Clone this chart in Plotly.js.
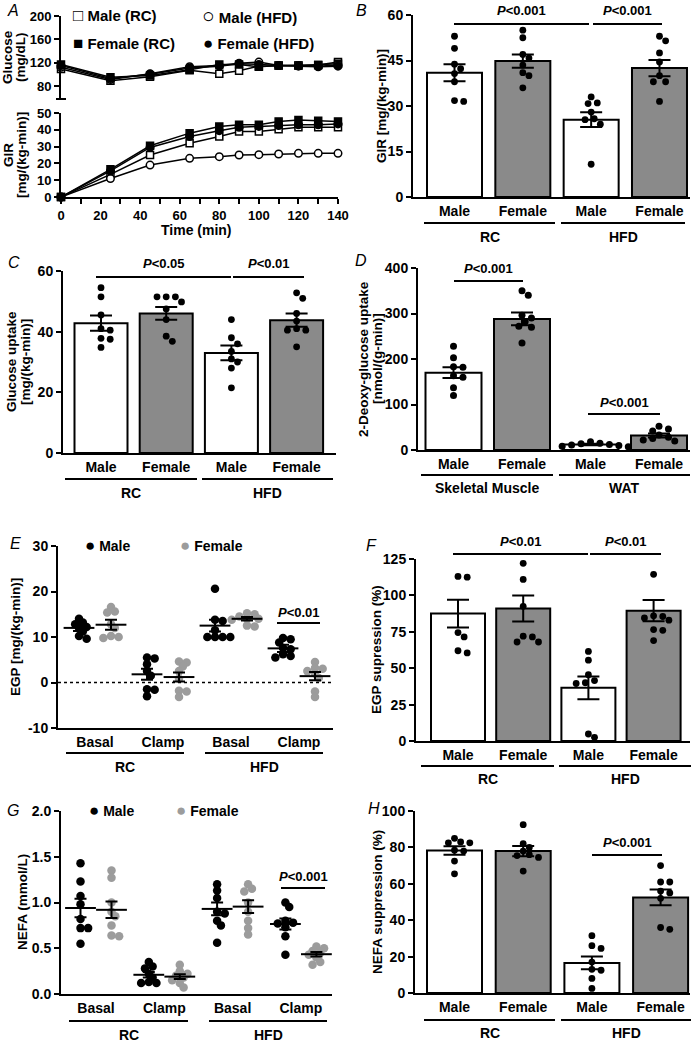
<!DOCTYPE html>
<html><head><meta charset="utf-8">
<script src="https://cdn.plot.ly/plotly-3.0.1.min.js"></script>
<style>html,body{margin:0;padding:0;background:#fff}</style>
</head><body><div id="chart" style="width:696px;height:1042px"></div>
<script>
// ================= DATA =================
// Panel A: clamp time course
const timeMin = [0, 25, 45, 65, 80, 90, 100, 110, 120, 130, 140];
const gluMaleRC   = [109, 89, 96, 107, 101, 106, 114, 115, 115, 116, 121];
const gluFemaleRC = [117, 95, 98, 108, 117, 117, 113, 115, 115, 116, 118];
const gluMaleHFD  = [112, 91, 101, 113, 115, 119, 121, 115, 115, 114, 116];
const gluFemaleHFD= [115, 93, 100, 111, 114, 118, 117, 115, 114, 113, 114];
const girMaleRC   = [0, 13.5, 25, 32, 36, 39, 39, 40.3, 41.5, 41.5, 41.5];
const girFemaleRC = [0, 16.5, 30.5, 38, 42, 43, 43, 45, 45.8, 45.4, 45];
const girMaleHFD  = [0, 11, 19, 23, 24, 25, 25.2, 25.6, 26, 26, 26];
const girFemaleHFD= [0, 15.5, 29.5, 36, 39.5, 41.5, 42, 42.5, 43, 43, 43.5];

const barCats = ['Male', 'Female', 'Male', 'Female'];
const dotCats = ['Basal', 'Clamp', 'Basal', 'Clamp'];

// Panel B: GIR
const girMean = [41, 44.8, 25.5, 42.5];
const girSem  = [2.8, 2.2, 2.4, 2.7];
const girPts = [
  [53, 49, 43.8, 42.3, 40.7, 38, 31.5, 31.8],
  [55, 52.5, 47, 45.8, 43.5, 41, 40, 36],
  [33, 31, 30.8, 28, 25.8, 25.5, 24, 10.8],
  [53, 51.5, 47.5, 44.5, 40, 38, 38, 31.5]
];
// Panel C: glucose uptake
const guMean = [42.8, 46, 33, 43.8];
const guSem  = [2.5, 2.1, 2.4, 2.2];
const guPts = [
  [54.5, 51.5, 45.5, 41, 40.5, 37.8, 37.5, 34.8],
  [51.5, 51.5, 51.5, 49.8, 47.5, 44, 38.5, 36.8],
  [44, 38, 36, 33.5, 31, 30, 28, 21.5],
  [52.8, 51, 46, 43.5, 41, 40.5, 40.5, 35]
];
// Panel D: 2-deoxyglucose uptake
const dgMean = [170, 288, 12, 32];
const dgSem  = [12, 14, 1.5, 4.5];
const dgPts = [
  [228, 203, 183, 182, 163, 160, 137, 120],
  [350, 340, 296, 290, 282, 272, 270, 235],
  [18, 15, 14, 12, 11, 10, 8, 7],
  [52, 46, 42, 33, 28, 25, 22, 20]
];
// Panel E: EGP (Basal RC, Clamp RC, Basal HFD, Clamp HFD)
const egpMale = [
  [14, 13.2, 12.8, 12.2, 12, 11.2, 10.2, 9.6],
  [5.5, 5.3, 4, 2.5, 1.5, -1.5, -1.6, -3],
  [20.6, 13.8, 13.5, 11.5, 10, 10, 10, 10],
  [9.8, 9.5, 8.8, 7.6, 7.3, 6.2, 5.8, 5.5]
];
const egpFemale = [
  [16.6, 15.6, 15.4, 12.8, 12, 10.2, 10, 9.8],
  [4.6, 4.4, 3.5, 2.5, 0.8, -1.8, -2, -3.2],
  [15.2, 15, 14.5, 14, 14, 13.8, 12.5, 12.3],
  [4.5, 3.2, 3, 2.5, 2, 1, -2, -3.2]
];
const egpMaleMean = [12, 1.8, 12.5, 7.5];
const egpMaleSem  = [0.7, 1.2, 1.3, 0.8];
const egpFemaleMean = [12.7, 1.2, 14, 1.4];
const egpFemaleSem  = [1.1, 1.0, 0.4, 0.9];
// Panel F: EGP suppression
const egpsMean = [87.5, 91, 36.5, 89.5];
const egpsSem  = [9.5, 9, 7.8, 7.3];
const egpsPts = [
  [113, 112.5, 74.5, 71.5, 62, 60.5],
  [122, 111, 92.5, 72, 71.5, 68, 68],
  [61.5, 55.5, 45.5, 41.5, 40, 39.5, 4.8, 2.5],
  [114.5, 86, 85.5, 84.5, 83, 76.5, 76, 69]
];
// Panel G: NEFA
const nefaMale = [
  [1.43, 1.23, 1.07, 0.98, 0.82, 0.72, 0.72, 0.55],
  [0.35, 0.3, 0.28, 0.22, 0.18, 0.13, 0.12, 0.12],
  [1.2, 1.13, 1.05, 0.9, 0.88, 0.8, 0.75, 0.56],
  [1.0, 0.95, 0.8, 0.78, 0.77, 0.73, 0.63, 0.43]
];
const nefaFemale = [
  [1.35, 1.27, 1.0, 0.9, 0.85, 0.75, 0.63, 0.64],
  [0.32, 0.25, 0.22, 0.2, 0.18, 0.15, 0.12, 0.07],
  [1.2, 1.15, 1.12, 1.0, 0.9, 0.8, 0.72, 0.65],
  [0.52, 0.5, 0.47, 0.45, 0.43, 0.4, 0.35, 0.32]
];
const nefaMaleMean = [0.94, 0.21, 0.93, 0.765];
const nefaMaleSem  = [0.1, 0.03, 0.07, 0.06];
const nefaFemaleMean = [0.92, 0.19, 0.955, 0.435];
const nefaFemaleSem  = [0.09, 0.025, 0.07, 0.025];
// Panel H: NEFA suppression
const nsMean = [78.3, 78, 16.5, 52.5];
const nsSem  = [2.3, 2.8, 3.5, 4.3];
const nsPts = [
  [85, 83, 82.5, 82.5, 78.5, 78, 72.5, 65.5],
  [92.5, 82, 80, 78, 76, 75.5, 74.5, 67],
  [31.5, 26, 24.5, 17, 13, 12.5, 8, 2.5],
  [70, 61, 61, 56, 55, 52, 36, 35]
];

// ================= LAYOUT HELPERS =================
const FONT = 'Liberation Sans, Arial, Helvetica, sans-serif';
const W = 696, H = 1042;
const PX = x => x / W, PY = y => 1 - y / H;
const WHITE = '#ffffff', BARGRAY = '#8a8a8a', DOTGRAY = '#9c9c9c';

const layout = {
  width: W, height: H, margin: {l: 0, r: 0, t: 0, b: 0}, showlegend: false,
  paper_bgcolor: '#fff', plot_bgcolor: 'rgba(0,0,0,0)',
  font: {family: FONT, color: '#000'}, annotations: [], shapes: []
};
const traces = [];

function axisBase(fs) {
  return {showgrid: false, zeroline: false, showline: true, linecolor: '#000', linewidth: 2,
    ticks: 'outside', ticklen: 5, tickwidth: 2, tickcolor: '#000',
    tickfont: {family: FONT, size: fs || 14, weight: 'bold', color: '#000'}, fixedrange: true};
}
function makeAxes(n, g) {
  const xk = n === 1 ? 'xaxis' : 'xaxis' + n, yk = n === 1 ? 'yaxis' : 'yaxis' + n;
  const xid = n === 1 ? 'x' : 'x' + n, yid = n === 1 ? 'y' : 'y' + n;
  layout[xk] = Object.assign(axisBase(g.fs), {domain: [PX(g.x0), PX(g.x1)], range: g.xr, anchor: yid,
    tickmode: 'array', tickvals: g.xt, ticktext: g.xtext, ticks: g.xticks || ''});
  layout[yk] = Object.assign(axisBase(g.fs), {domain: [PY(g.bot), PY(g.top)], range: g.yr, anchor: xid,
    tickmode: 'array', tickvals: g.yt, ticktext: g.ytext || g.yt.map(String)});
  return {x: xid, y: yid, xk, yk};
}
function ann(text, x, y, o) {
  const base = {xref: 'paper', yref: 'paper', x: PX(x), y: PY(y), text, showarrow: false,
    xanchor: 'center', yanchor: 'middle', borderpad: 0,
    font: {family: FONT, size: 14, weight: 'bold', color: '#000'}};
  o = Object.assign({}, o || {});
  if (o.font) { o.font = Object.assign({}, base.font, o.font); }
  layout.annotations.push(Object.assign(base, o));
}
function hline(x0, x1, y, w) {
  layout.shapes.push({type: 'line', xref: 'paper', yref: 'paper', x0: PX(x0), x1: PX(x1),
    y0: PY(y), y1: PY(y), line: {color: '#000', width: w || 2}});
}
// beeswarm-like horizontal spreading of the scatter dots (pixel based)
function swarm(vals, yScale, xScale, d, tight) {
  const idx = vals.map((_, i) => i).sort((a, b) => vals[b] - vals[a]);
  const placed = [], off = new Array(vals.length).fill(0);
  const minD = d * (tight || 0.95);
  idx.forEach(i => {
    const y = vals[i] * yScale;
    for (let k = 0; k < 40; k++) {
      const m = Math.ceil(k / 2) * (k % 2 ? 1 : -1);
      const x = m * d * 0.45;
      if (placed.every(p => Math.hypot(p.x - x, p.y - y) >= minD)) {
        placed.push({x, y}); off[i] = x / xScale; break;
      }
    }
  });
  return off;
}
function barPanel(n, geo, mean, sem, pts, dotSize) {
  const step = geo.step;
  const ax = makeAxes(n, {x0: geo.ax, x1: geo.end, top: geo.top, bot: geo.bot,
    xr: [(geo.ax - geo.c0) / step, (geo.end - geo.c0) / step], yr: geo.yr, yt: geo.yt,
    xt: [0, 1, 2, 3], xtext: barCats});
  traces.push({type: 'bar', x: [0, 1, 2, 3], y: mean, xaxis: ax.x, yaxis: ax.y, width: geo.bw / step,
    marker: {color: [WHITE, BARGRAY, WHITE, BARGRAY], line: {color: '#000', width: 2}},
    error_y: {type: 'data', array: sem, visible: true, color: '#000', thickness: 2, width: 11},
    hoverinfo: 'skip'});
  const yScale = (geo.bot - geo.top) / (geo.yr[1] - geo.yr[0]);
  const dx = [], dy = [];
  pts.forEach((grp, i) => {
    const off = swarm(grp, yScale, step, dotSize, 1.0);
    grp.forEach((v, j) => { dx.push(i + off[j]); dy.push(v); });
  });
  traces.push({type: 'scatter', mode: 'markers', x: dx, y: dy, xaxis: ax.x, yaxis: ax.y,
    marker: {color: '#000', size: dotSize}, cliponaxis: false, hoverinfo: 'skip'});
  return ax;
}
function dotPanel(n, geo, male, female, mM, mS, fM, fS, dotSize) {
  const step = geo.step;
  const ax = makeAxes(n, {x0: geo.ax, x1: geo.end, top: geo.top, bot: geo.bot,
    xr: [(geo.ax - geo.c0) / step, (geo.end - geo.c0) / step], yr: geo.yr, yt: geo.yt, ytext: geo.ytext,
    xt: [0, 1, 2, 3], xtext: dotCats});
  const yScale = (geo.bot - geo.top) / (geo.yr[1] - geo.yr[0]);
  const so = geo.sexOff / step;
  [[male, -so, '#000'], [female, so, DOTGRAY]].forEach(([groups, b, col]) => {
    const dx = [], dy = [];
    groups.forEach((grp, i) => {
      const off = swarm(grp, yScale, step, dotSize, 0.62);
      grp.forEach((v, j) => { dx.push(i + b + off[j]); dy.push(v); });
    });
    traces.push({type: 'scatter', mode: 'markers', x: dx, y: dy, xaxis: ax.x, yaxis: ax.y,
      marker: {color: col, size: dotSize}, cliponaxis: false, hoverinfo: 'skip'});
  });
  [[mM, mS, -so], [fM, fS, so]].forEach(([m, s, b]) => {
    traces.push({type: 'scatter', mode: 'markers', x: [0, 1, 2, 3].map(i => i + b), y: m,
      xaxis: ax.x, yaxis: ax.y, cliponaxis: false, hoverinfo: 'skip',
      marker: {symbol: 'line-ew', size: 22, color: '#000', line: {color: '#000', width: 2}},
      error_y: {type: 'data', array: s, visible: true, color: '#000', thickness: 2, width: 6}});
  });
  return ax;
}
const P = s => '<i>P</i>&lt;' + s;
const PF = {size: 13};
const YT = {size: 13.5};
const LET = {size: 16, weight: 'normal', style: 'italic'};

// ================= PANEL A =================
const axG = makeAxes(1, {x0: 61, x1: 338, top: 113, bot: 197, xr: [0, 140], yr: [0, 50],
  yt: [0, 10, 20, 30, 40, 50], xt: [0, 10, 20, 30, 40, 50, 60, 70, 80, 90, 100, 110, 120, 130, 140],
  xtext: ['0', '', '20', '', '40', '', '60', '', '80', '', '100', '', '120', '', '140'], xticks: 'outside', fs: 13});
const axU = makeAxes(2, {x0: 61, x1: 338, top: 16, bot: 99, xr: [0, 140], yr: [57.7, 200],
  yt: [80, 120, 160, 200], xt: [], xtext: [], fs: 13});
Object.assign(layout.xaxis2, {showline: false, showticklabels: false, ticks: ''});
hline(56, 66, 99, 2);

const seriesA = [
  [gluMaleRC, girMaleRC, 'square', WHITE],
  [gluFemaleRC, girFemaleRC, 'square', '#000'],
  [gluMaleHFD, girMaleHFD, 'circle', WHITE],
  [gluFemaleHFD, girFemaleHFD, 'circle', '#000']
];
seriesA.forEach(([glu, gir, sym, fill]) => {
  [[glu, axU], [gir, axG]].forEach(([yy, ax]) => {
    traces.push({type: 'scatter', mode: 'lines+markers', x: timeMin, y: yy, xaxis: ax.x, yaxis: ax.y,
      line: {color: '#000', width: 1.5}, cliponaxis: false, hoverinfo: 'skip',
      marker: {symbol: sym, size: sym === 'square' ? 7 : 7.5, color: fill, line: {color: '#000', width: 1.5}}});
  });
});
ann('A', 13, 10, {font: LET});
ann('Glucose', 8, 57, {textangle: -90, font: YT});
ann('(mg/dL)', 21, 57, {textangle: -90, font: YT});
ann('GIR', 8, 155, {textangle: -90, font: YT});
ann('[mg/(kg-min)]', 21, 155, {textangle: -90, font: YT});
ann('Time (min)', 196, 230, {font: {size: 14}});
const LG = {xanchor: 'left', font: {size: 15}};
const glyph = (g, col, sz) => '<span style="font-size:' + (sz || 17) + 'px' + (col ? ';fill:' + col : '') + '">' + g + '</span>';
ann(glyph('□') + ' Male (RC)', 72, 16, LG);
ann(glyph('○', null, 21) + ' Male (HFD)', 201, 16, LG);
ann(glyph('■') + ' Female (RC)', 72, 43, LG);
ann(glyph('●') + ' Female (HFD)', 202, 43, LG);

// ================= PANEL B =================
barPanel(3, {ax: 413, end: 690, top: 15, bot: 197, c0: 454.5, step: 68.33, bw: 55, yr: [0, 60], yt: [0, 15, 30, 45, 60]},
  girMean, girSem, girPts, 6.8);
ann('B', 361, 10, {font: LET});
ann('GIR [mg/(kg-min)]', 381, 106, {textangle: -90, font: YT});
hline(454, 589, 24); hline(593, 662, 24);
ann(P('0.001'), 521.5, 11, {font: PF}); ann(P('0.001'), 627.5, 11, {font: PF});
hline(424, 555, 223); hline(561, 685, 223);
ann('RC', 489.5, 237); ann('HFD', 623, 237);

// ================= PANEL C =================
barPanel(4, {ax: 63, end: 336, top: 271, bot: 453, c0: 101, step: 65.2, bw: 53, yr: [0, 60], yt: [0, 20, 40, 60]},
  guMean, guSem, guPts, 6.8);
ann('C', 14, 262, {font: LET});
ann('Glucose uptake', 11, 362, {textangle: -90, font: YT});
ann('[mg/(kg-min)]', 25, 362, {textangle: -90, font: YT});
hline(96, 231, 277); hline(233, 304, 277);
ann(P('0.05'), 163.5, 263, {font: PF}); ann(P('0.01'), 268.5, 263, {font: PF});
hline(65, 197, 479); hline(202, 333, 479);
ann('RC', 131, 493); ann('HFD', 267.5, 493);

// ================= PANEL D =================
barPanel(5, {ax: 418, end: 690, top: 268, bot: 450, c0: 453.5, step: 68.5, bw: 56, yr: [0, 400], yt: [0, 100, 200, 300, 400]},
  dgMean, dgSem, dgPts, 7);
ann('D', 361, 260, {font: LET});
ann('2-Deoxy-glucose uptake', 363, 359, {textangle: -90, font: YT});
ann('[nmol/(g-min)]', 377, 359, {textangle: -90, font: YT});
hline(454, 523, 281); ann(P('0.001'), 488.5, 269, {font: PF});
hline(588, 660, 414); ann(P('0.001'), 624, 403, {font: PF});
hline(421, 553, 475); hline(559, 690, 475);
ann('Skeletal Muscle', 487, 488); ann('WAT', 624.5, 488);

// ================= PANEL E =================
const axE = dotPanel(6, {ax: 58, end: 333, top: 546, bot: 728, c0: 95, step: 68, sexOff: 16, yr: [-10, 30],
  yt: [-10, 0, 10, 20, 30], ytext: ['-10', '0', '10', '20', '30']},
  egpMale, egpFemale, egpMaleMean, egpMaleSem, egpFemaleMean, egpFemaleSem, 8.5);
layout.shapes.push({type: 'line', xref: axE.x, yref: axE.y, x0: layout.xaxis6.range[0], x1: layout.xaxis6.range[1],
  y0: 0, y1: 0, line: {color: '#000', width: 1.5, dash: 'dot'}});
ann('E', 15, 543, {font: LET});
ann('EGP [mg/(kg-min)]', 15, 637, {textangle: -90, font: YT});
ann(glyph('●') + ' Male', 84, 545, {xanchor: 'left'});
ann(glyph('●', DOTGRAY) + ' Female', 179, 545, {xanchor: 'left'});
hline(277, 320, 623); ann(P('0.01'), 298.5, 612, {font: PF});
hline(66, 184, 753); hline(205, 323, 753);
ann('RC', 125, 767); ann('HFD', 264, 767);

// ================= PANEL F =================
barPanel(7, {ax: 416, end: 690, top: 559, bot: 741, c0: 458, step: 65.2, bw: 54, yr: [0, 125], yt: [0, 25, 50, 75, 100, 125]},
  egpsMean, egpsSem, egpsPts, 6.8);
ann('F', 372, 545, {font: LET});
ann('EGP supression (%)', 376, 650, {textangle: -90, font: YT});
hline(453, 588, 554); hline(590, 661, 554);
ann(P('0.01'), 520.5, 541, {font: PF}); ann(P('0.01'), 625.5, 541, {font: PF});
hline(421, 554, 766); hline(559, 691, 766);
ann('RC', 487.5, 779); ann('HFD', 625, 779);

// ================= PANEL G =================
dotPanel(8, {ax: 61, end: 332, top: 811, bot: 994, c0: 96, step: 68.3, sexOff: 15.5, yr: [0, 2],
  yt: [0, 0.5, 1, 1.5, 2], ytext: ['0.0', '0.5', '1.0', '1.5', '2.0']},
  nefaMale, nefaFemale, nefaMaleMean, nefaMaleSem, nefaFemaleMean, nefaFemaleSem, 8.5);
ann('G', 13, 810, {font: LET});
ann('NEFA (mmol/L)', 22, 902, {textangle: -90, font: YT});
ann(glyph('●') + ' Male', 88, 810, {xanchor: 'left'});
ann(glyph('●', DOTGRAY) + ' Female', 175, 810, {xanchor: 'left'});
hline(281, 325, 888); ann(P('0.001'), 303, 876, {font: PF});
hline(69, 188, 1021); hline(209, 327, 1021);
ann('RC', 128.5, 1035); ann('HFD', 268, 1035);

// ================= PANEL H =================
barPanel(9, {ax: 415, end: 690, top: 811, bot: 993, c0: 454.5, step: 68.7, bw: 55, yr: [0, 100], yt: [0, 20, 40, 60, 80, 100]},
  nsMean, nsSem, nsPts, 6.8);
ann('H', 374, 808, {font: LET});
ann('NEFA suppression (%)', 377, 902, {textangle: -90, font: YT});
hline(592, 662, 855); ann(P('0.001'), 627, 842, {font: PF});
hline(424, 555, 1020); hline(561, 691, 1020);
ann('RC', 489.5, 1033); ann('HFD', 626, 1033);

Plotly.newPlot('chart', traces, layout, {staticPlot: true, displayModeBar: false});
</script>
</body></html>
